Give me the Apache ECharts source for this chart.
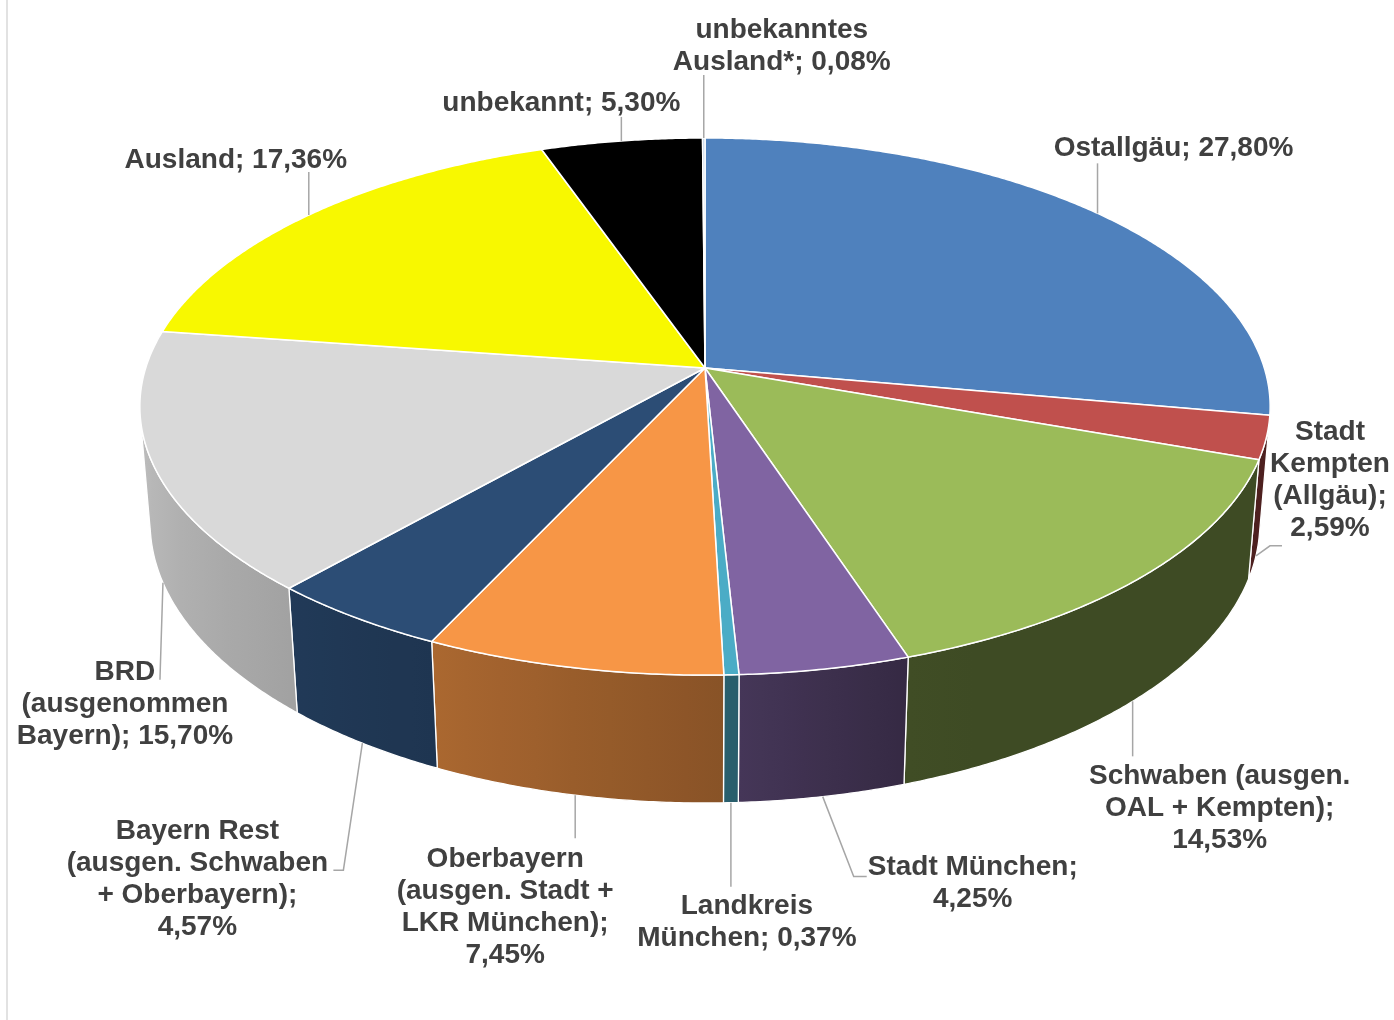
<!DOCTYPE html>
<html>
<head>
<meta charset="utf-8">
<title>Herkunft</title>
<script src="https://cdn.jsdelivr.net/npm/echarts@6/dist/echarts.min.js"></script>
<style>
    html, body { margin: 0; padding: 0; background: #fff; }
    #chart { width: 1394px; height: 1020px; }
</style>
</head>
<body>
<div id="chart"></div>
<script>
// data, clockwise from 12 o'clock
var regions = ['Ostallgäu', 'Stadt\nKempten\n(Allgäu)', 'Schwaben (ausgen.\nOAL + Kempten)', 'Stadt München',
    'Landkreis\nMünchen', 'Oberbayern\n(ausgen. Stadt +\nLKR München)', 'Bayern Rest\n(ausgen. Schwaben\n+ Oberbayern)',
    'BRD\n(ausgenommen\nBayern)', 'Ausland', 'unbekannt', 'unbekanntes\nAusland*'];
var shares = [27.80, 2.59, 14.53, 4.25, 0.37, 7.45, 4.57, 15.70, 17.36, 5.30, 0.08];
var valueOnNewLine = [false, true, true, true, false, true, true, false, false, false, false];

var topColors = ['#4F81BD', '#C0504D', '#9BBB59', '#8064A2', '#4BACC6', '#F79646', '#2C4D75',
    '#D9D9D9', '#F8F800', '#000000', '#B9CDE5'];

// label text offset from the anchor point, then leader line points (also relative)
var labelLayout = [
    { text: [76, -65], leader: [[0, -50]] },
    { text: [74, -76], leader: [[14, -10], [26, -10]] },
    { text: [87, 107], leader: [[0, 55]] },
    { text: [150, 87], leader: [[31, 80], [44, 80]] },
    { text: [16, 120], leader: [[0, 84]] },
    { text: [-70, 112], leader: [[0, 43]] },
    { text: [-165, 136], leader: [[-19, 127], [-29, 127]] },
    { text: [-38, 122], leader: [[-3, 97]] },
    { text: [-73, -55], leader: [[0, -43]] },
    { text: [-60, -38], leader: [[0, -24]] },
    { text: [78, -92], leader: [[0, -63]] }
];

// 3d pie projection
var CX = 705, CY = 368, SCALE = 559.3, PERSP = 0.1626, THICK = 0.238;
var TILT = 28.05 * Math.PI / 180;
var SIN_T = Math.sin(TILT), COS_T = Math.cos(TILT);
var VIS_A = Math.acos(-PERSP / COS_T), VIS_B = 2 * Math.PI - VIS_A;

// side lighting: [angle in degrees, brightness]
var light = [[0, 0.40], [160, 0.40], [178, 0.55], [205, 0.69], [222, 0.75], [260, 0.88], [360, 0.88]];

var total = shares.reduce(function (s, v) { return s + v; }, 0);
var starts = [];
var acc = 0;
shares.forEach(function (v) { starts.push(acc / total * 2 * Math.PI); acc += v; });

function project(theta, h) {
    var X = Math.sin(theta), Z = Math.cos(theta);
    var depth = 1 + PERSP * (Z * COS_T - h * SIN_T);
    return [CX + SCALE * X / depth, CY - SCALE * (Z * SIN_T + h * COS_T) / depth];
}

function arc(a, b, h) {
    var n = Math.max(2, Math.ceil((b - a) / (0.4 * Math.PI / 180)));
    var pts = [];
    for (var k = 0; k <= n; k++) pts.push(project(a + (b - a) * k / n, h));
    return pts;
}

function shade(hex, f) {
    var r = parseInt(hex.substr(1, 2), 16), g = parseInt(hex.substr(3, 2), 16), b = parseInt(hex.substr(5, 2), 16);
    return 'rgb(' + Math.round(r * f) + ',' + Math.round(g * f) + ',' + Math.round(b * f) + ')';
}

function sideFactor(theta) {
    var deg = theta * 180 / Math.PI;
    for (var k = 1; k < light.length; k++) {
        if (deg <= light[k][0]) {
            var t = (deg - light[k - 1][0]) / (light[k][0] - light[k - 1][0]);
            return light[k - 1][1] + t * (light[k][1] - light[k - 1][1]);
        }
    }
    return light[light.length - 1][1];
}

function sliceRange(api, i) {
    var a = starts[i];
    return [a, a + api.value(0) / total * 2 * Math.PI];
}

function renderSide(params, api) {
    var i = params.dataIndex;
    var r = sliceRange(api, i);
    var a = Math.max(r[0], VIS_A), b = Math.min(r[1], VIS_B);
    if (b <= a) return { type: 'group', children: [] };
    var pts = arc(a, b, 0).concat(arc(a, b, -THICK).reverse());
    var xr = project(a, 0)[0], xl = project(b, 0)[0];
    var stops = [];
    for (var k = 0; k <= 8; k++) {
        var th = a + (b - a) * k / 8;
        var off = xr - xl > 0.5 ? (project(th, 0)[0] - xl) / (xr - xl) : k / 8;
        stops.push({ offset: Math.min(1, Math.max(0, off)), color: shade(topColors[i], sideFactor(th)) });
    }
    stops.sort(function (p, q) { return p.offset - q.offset; });
    return {
        type: 'polygon',
        shape: { points: pts },
        style: {
            fill: { type: 'linear', x: xl, y: 0, x2: xr, y2: 0, global: true, colorStops: stops },
            stroke: '#ffffff', lineWidth: 1.3, lineJoin: 'round'
        }
    };
}

function renderTop(params, api) {
    var i = params.dataIndex;
    var r = sliceRange(api, i);
    var pts = [[CX, CY]].concat(arc(r[0], r[1], 0));
    return {
        type: 'polygon',
        shape: { points: pts },
        style: { fill: topColors[i], stroke: '#ffffff', lineWidth: 1.5, lineJoin: 'round' }
    };
}

function renderLabel(params, api) {
    var i = params.dataIndex;
    var r = sliceRange(api, i);
    var mid = (r[0] + r[1]) / 2;
    var front = mid > VIS_A && mid < VIS_B;
    var anchor = project(mid, front ? -THICK : 0);
    var lay = labelLayout[i];
    var linePts = [anchor].concat(lay.leader.map(function (p) { return [anchor[0] + p[0], anchor[1] + p[1]]; }));
    var val = api.value(0).toFixed(2).replace('.', ',') + '%';
    var txt = regions[i] + ';' + (valueOnNewLine[i] ? '\n' : ' ') + val;
    return {
        type: 'group',
        children: [
            {
                type: 'polyline',
                shape: { points: linePts },
                style: { stroke: '#a6a6a6', lineWidth: 1.5, fill: null }
            },
            {
                type: 'text',
                x: anchor[0] + lay.text[0],
                y: anchor[1] + lay.text[1],
                style: {
                    text: txt,
                    fill: '#404040',
                    fontSize: 28,
                    fontWeight: 'bold',
                    fontFamily: '"Liberation Sans", Arial, sans-serif',
                    align: 'center',
                    verticalAlign: 'middle',
                    lineHeight: 32
                }
            }
        ]
    };
}

var chart = echarts.init(document.getElementById('chart'));

var option = {
    backgroundColor: '#ffffff',
    animation: false,
    graphic: [
        {
            type: 'line',
            shape: { x1: 7, y1: 0, x2: 7, y2: 1020 },
            style: { stroke: '#d9d9d9', lineWidth: 1.5 }
        }
    ],
    series: [
        { type: 'custom', name: 'side', coordinateSystem: 'none', silent: true, data: shares, renderItem: renderSide },
        { type: 'custom', name: 'top', coordinateSystem: 'none', silent: true, data: shares, renderItem: renderTop },
        { type: 'custom', name: 'labels', coordinateSystem: 'none', silent: true, data: shares, renderItem: renderLabel }
    ]
};

chart.setOption(option);
</script>
</body>
</html>
